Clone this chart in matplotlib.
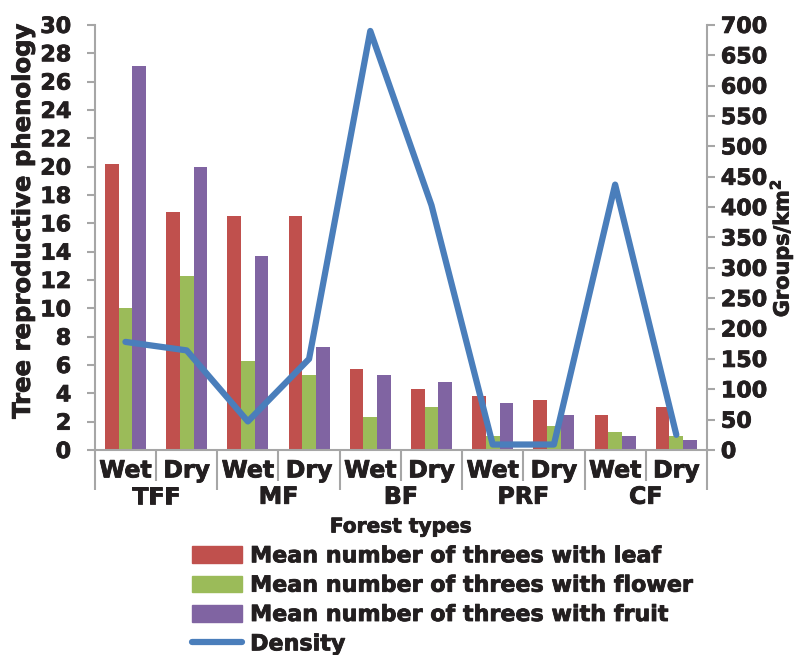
import numpy as np
import matplotlib
matplotlib.use("Agg")
import matplotlib.pyplot as plt
import matplotlib.patheffects as pe
from matplotlib.patches import Patch
from matplotlib.lines import Line2D
from matplotlib.text import Text

plt.rcParams['font.family'] = ['DejaVu Sans']
plt.rcParams['font.weight'] = 'bold'
plt.rcParams['text.color'] = '#231F20'
plt.rcParams['axes.labelcolor'] = '#231F20'
plt.rcParams['ytick.labelcolor'] = '#231F20'

# data
forests = ['TFF', 'MF', 'BF', 'PRF', 'CF']
seasons = ['Wet', 'Dry']
leaf = [20.2, 16.8, 16.5, 16.5, 5.7, 4.3, 3.8, 3.5, 2.5, 3.0]
flower = [10.0, 12.3, 6.3, 5.3, 2.3, 3.0, 1.0, 1.7, 1.3, 1.0]
fruit = [27.1, 20.0, 13.7, 7.3, 5.3, 4.8, 3.3, 2.5, 1.0, 0.7]
density = [178, 164, 47, 150, 690, 403, 9, 9, 437, 25]

red = '#C0504D'
green = '#9BBB59'
purple = '#8064A2'
blue = '#4A7EBB'
grey = '#A6A6A6'
ink = '#231F20'

fig = plt.figure(figsize=(7.97, 6.55), dpi=100)
ax = fig.add_axes([0.119, 0.313, 0.768, 0.649])

x = np.arange(len(leaf))
w = 0.224
ax.bar(x - w, leaf, w, color=red)
ax.bar(x, flower, w, color=green)
ax.bar(x + w, fruit, w, color=purple)

ax.set_xlim(-0.5, len(leaf) - 0.5)
ax.set_ylim(0, 30)
ax.set_yticks(np.arange(0, 31, 2))
ax.tick_params(axis='y', direction='out', length=6, width=1.5, color=grey,
               labelsize=16, pad=11)
for s in ['top', 'right']:
    ax.spines[s].set_visible(False)
for s in ['left', 'bottom']:
    ax.spines[s].set_color(grey)
    ax.spines[s].set_linewidth(1.5)

# two level category axis
bounds = np.arange(-0.5, len(leaf), 1.0)
group_b = bounds[::2]
season_b = bounds[1::2]
ax.set_xticks(group_b)
ax.set_xticks(season_b, minor=True)
ax.set_xticklabels([])
ax.tick_params(axis='x', which='major', direction='out', length=29, width=1.5, color=grey)
ax.tick_params(axis='x', which='minor', direction='out', length=22, width=1.5, color=grey)

trans = ax.get_xaxis_transform()
for i in range(len(leaf)):
    ax.text(x[i], -0.048, seasons[i % 2], transform=trans, ha='center', va='center',
            fontsize=17, fontweight='bold')
for j, f in enumerate(forests):
    ax.text(2 * j + 0.5, -0.11, f, transform=trans, ha='center', va='center',
            fontsize=17, fontweight='bold')
ax.text(0.5, -0.181, 'Forest types', transform=ax.transAxes, ha='center', va='center',
        fontsize=14.5, fontweight='bold')

ax.set_ylabel('Tree reproductive phenology', fontsize=17.5, fontweight='bold')
ax.yaxis.set_label_coords(-0.098, 0.536)

ax2 = ax.twinx()
ax2.plot(x, density, color=blue, linewidth=4.5, solid_capstyle='round')
ax2.set_ylim(0, 700)
ax2.set_yticks(np.arange(0, 701, 50))
ax2.tick_params(axis='y', direction='out', length=6, width=1.5, color=grey,
                labelsize=16, pad=4)
for s in ['top', 'left', 'bottom']:
    ax2.spines[s].set_visible(False)
ax2.spines['right'].set_color(grey)
ax2.spines['right'].set_linewidth(1.5)
ax2.set_ylabel('Groups/km$^\\mathbf{2}$', fontsize=15, fontweight='bold')
ax2.yaxis.set_label_coords(1.097, 0.475)

handles = [Patch(color=red), Patch(color=green), Patch(color=purple),
           Line2D([], [], color=blue, linewidth=4.5, solid_capstyle='round')]
labels = ['Mean number of threes with leaf', 'Mean number of threes with flower',
          'Mean number of threes with fruit', 'Density']
fig.legend(handles, labels, loc='upper left', bbox_to_anchor=(0.241, 0.166),
           frameon=False, prop={'weight': 'bold', 'size': 16},
           handlelength=2.25, handleheight=0.77, handletextpad=0.36,
           labelspacing=0.42, borderpad=0, borderaxespad=0)

# heavier lettering, like the original's black weight
for t in fig.findobj(Text):
    t.set_path_effects([pe.withStroke(linewidth=0.6, foreground=ink)])

fig.savefig('out.png', dpi=100)
